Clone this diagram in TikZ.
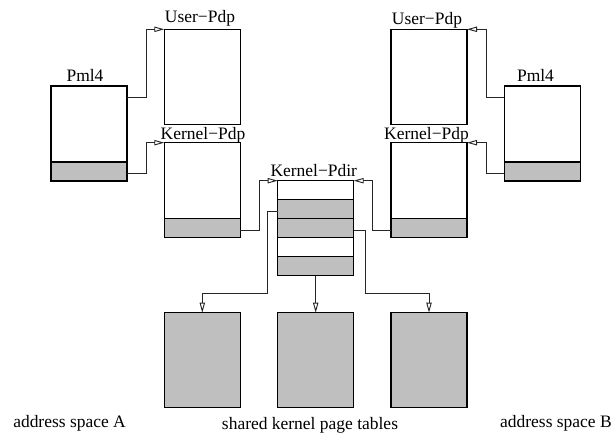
\documentclass[tikz,border=0pt]{standalone}
\usepackage{fontspec}
\setmainfont{Liberation Serif}
\usetikzlibrary{arrows.meta,calc}
\definecolor{tabgray}{RGB}{191,191,191}
\begin{document}
\begin{tikzpicture}[x=0.75pt,y=-0.75pt,
  font=\fontsize{13.1}{15}\selectfont,
  table/.style={draw, line width=0.8pt, minimum width=57pt, minimum height=71.25pt,
    inner sep=0pt, outer sep=0pt, anchor=north west},
  band/.style={draw, fill=tabgray, line width=0.8pt, minimum width=57pt,
    minimum height=14.25pt, inner sep=0pt, outer sep=0pt, anchor=south west},
  row/.style={minimum width=57pt, minimum height=14.25pt, inner sep=0pt,
    outer sep=0pt, anchor=north west},
  grayrow/.style={row, draw, fill=tabgray, line width=0.8pt},
  leaf/.style={table, fill=tabgray},
  lab/.style={anchor=base, inner sep=0pt},
  conn/.style={line width=0.7pt, black!85,
    -{Triangle[open, length=7.5pt, width=4pt]}},
  wire/.style={line width=0.7pt, black!85}]
\useasboundingbox (0,0) rectangle (614,434);

% address space A
\node[table] (pmlA)  at (51,86) {};
\node[band]  (pmlAg) at (pmlA.south west) {};
\node[table] (userA) at (164.3,29.3) {};
\node[table] (kernA) at (164.3,142.7) {};
\node[band]  (kernAg) at (kernA.south west) {};

% address space B
\node[table] (userB) at (391,29.3) {};
\node[table] (kernB) at (391,142.7) {};
\node[band]  (kernBg) at (kernB.south west) {};
\node[table] (pmlB)  at (504.3,86) {};
\node[band]  (pmlBg) at (pmlB.south west) {};

% shared kernel directory and its rows
\node[table] (pdir) at (277.7,180.7) {};
\node[row]     (r1) at (pdir.north west) {};
\node[grayrow] (r2) at (r1.south west) {};
\node[grayrow] (r3) at (r2.south west) {};
\node[row]     (r4) at (r3.south west) {};
\node[grayrow] (r5) at (r4.south west) {};

% shared kernel page tables
\node[leaf] (leafA) at (164.3,312.7) {};
\node[leaf] (leafM) at (277.7,312.7) {};
\node[leaf] (leafB) at (391,312.7) {};

% labels
\node[lab] (labPmlA)  at (85,81.7)    {Pml4};
\node[lab] (labUserA) at (200,22.7)   {User−Pdp};
\node[lab] (labKernA) at (203,139.3)  {Kernel−Pdp};
\node[lab] (labPdir)  at (313.8,176.7) {Kernel−Pdir};
\node[lab] (labUserB) at (427,25)     {User−Pdp};
\node[lab] (labKernB) at (426.5,139.3) {Kernel−Pdp};
\node[lab] (labPmlB)  at (535.5,81.7) {Pml4};

\node[anchor=base west, inner sep=0pt] (capA) at (13,427) {address space A};
\node[anchor=base, inner sep=0pt] (capS) at (310,429.5) {shared kernel page tables};
\node[anchor=base east, inner sep=0pt] (capB) at (612,428) {address space B};

% pointers, address space A
\draw[conn] ($(pmlA.north east)+(0,11.3)$) -- ++(19.3,0) |- (userA.north west);
\draw[conn] ($(pmlAg.east)+(0,1.8)$) -- ++(19.3,0) |- (kernA.north west);
\draw[conn] ($(kernAg.east)+(0,1.8)$) -- ++(19,0) |- (pdir.north west);

% pointers, address space B
\draw[conn] ($(pmlB.north west)+(0,11.3)$) -- ++(-18.3,0) |- (userB.north east);
\draw[conn] ($(pmlBg.west)+(0,1.8)$) -- ++(-18.3,0) |- (kernB.north east);
\draw[conn] ($(kernBg.west)+(0,1.8)$) -- ++(-18.7,0) |- (pdir.north east);

% pointers to the shared page tables
\draw[conn] ($(r2.west)+(0,2)$) -- ++(-10.7,0) |- ($(leafA.north)+(0,-19.2)$) -- (leafA.north);
\draw[conn] (pdir.south) -- (leafM.north);
\draw[conn] ($(r3.east)+(0,2)$) -- ++(11.3,0) |- ($(leafB.north)+(0,-19.2)$) -- (leafB.north);
\end{tikzpicture}
\end{document}
